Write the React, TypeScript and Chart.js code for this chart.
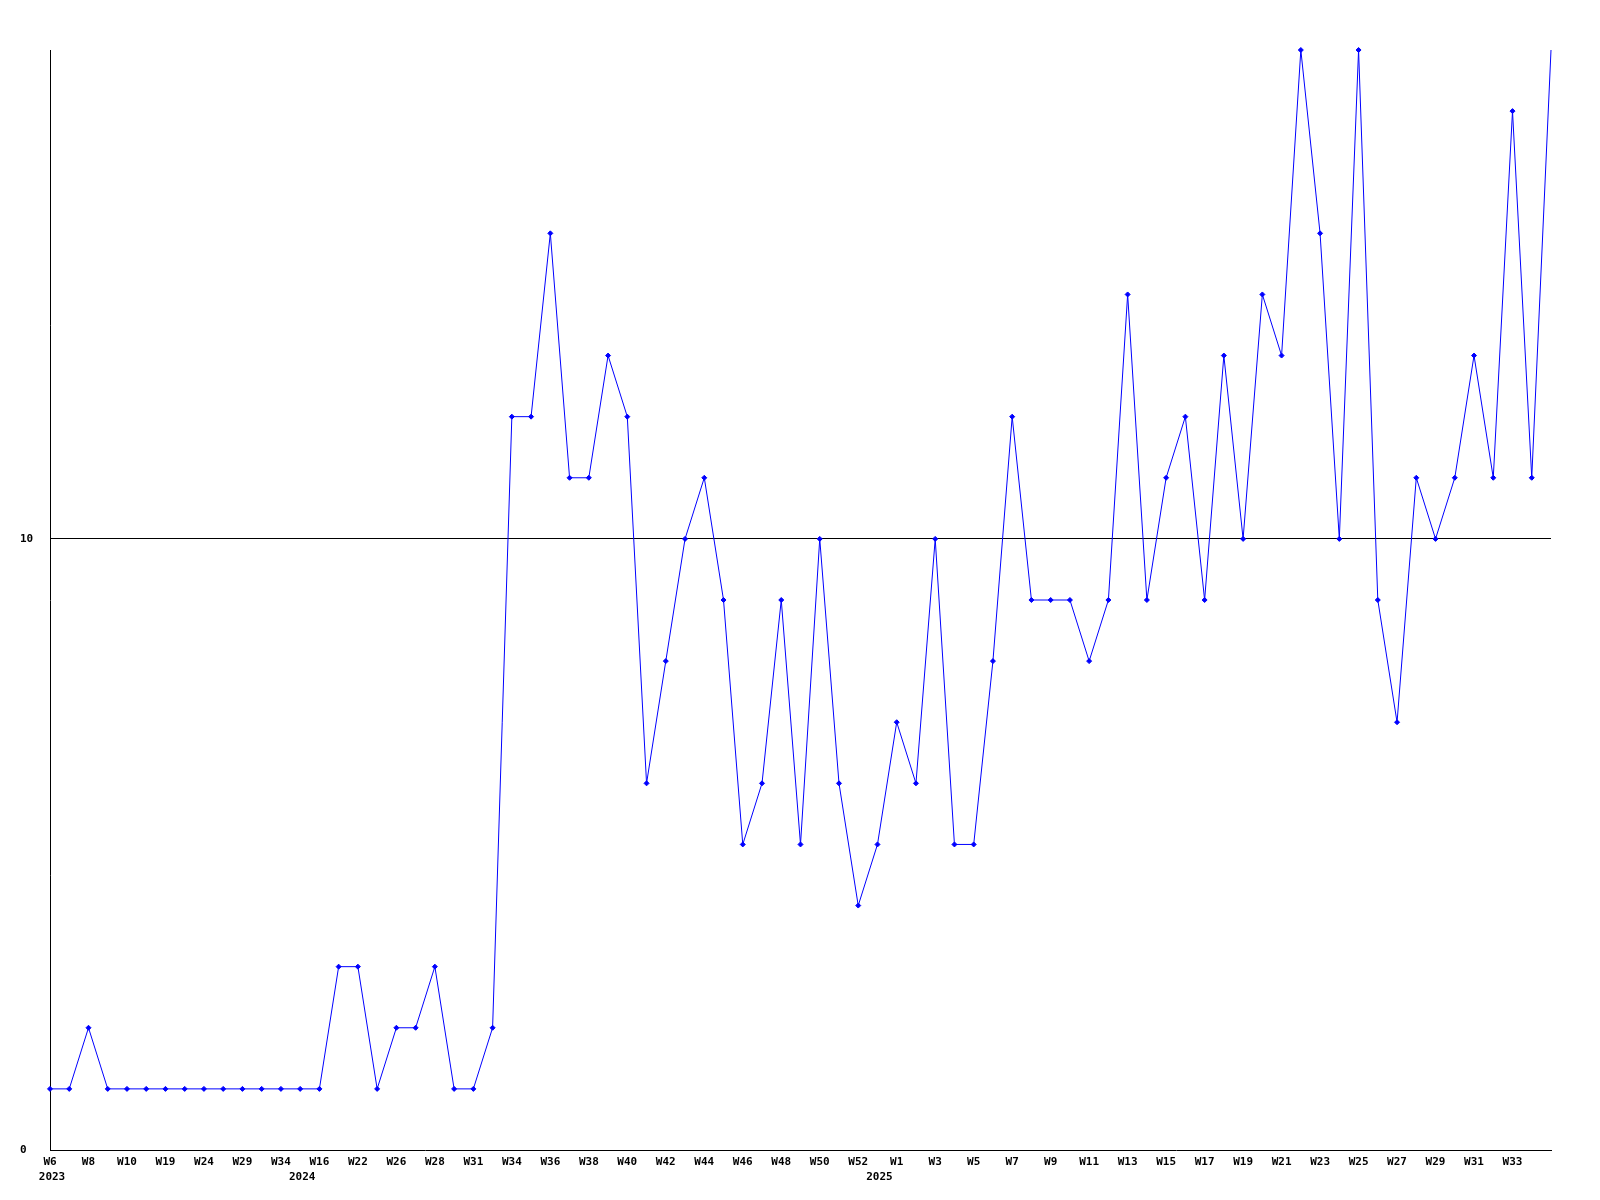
import React, { useEffect, useRef } from 'react';
import { Chart, registerables } from 'chart.js';

Chart.register(...registerables);

const weekLabels = [
  'W6', 'W7', 'W8', 'W9', 'W10', 'W15', 'W19', 'W22', 'W24', 'W27',
  'W29', 'W32', 'W34', 'W10', 'W16', 'W19', 'W22', 'W24', 'W26', 'W27',
  'W28', 'W30', 'W31', 'W32', 'W34', 'W35', 'W36', 'W37', 'W38', 'W39',
  'W40', 'W41', 'W42', 'W43', 'W44', 'W45', 'W46', 'W47', 'W48', 'W49',
  'W50', 'W51', 'W52', 'W0', 'W1', 'W2', 'W3', 'W4', 'W5', 'W6',
  'W7', 'W8', 'W9', 'W10', 'W11', 'W12', 'W13', 'W14', 'W15', 'W16',
  'W17', 'W18', 'W19', 'W20', 'W21', 'W22', 'W23', 'W24', 'W25', 'W26',
  'W27', 'W28', 'W29', 'W30', 'W31', 'W32', 'W33', 'W34', 'W35',
];

const values = [
  1, 1, 2, 1, 1, 1, 1, 1, 1, 1,
  1, 1, 1, 1, 1, 3, 3, 1, 2, 2,
  3, 1, 1, 2, 12, 12, 15, 11, 11, 13,
  12, 6, 8, 10, 11, 9, 5, 6, 9, 5,
  10, 6, 4, 5, 7, 6, 10, 5, 5, 8,
  12, 9, 9, 9, 8, 9, 14, 9, 11, 12,
  9, 13, 10, 14, 13, 18, 15, 10, 18, 9,
  7, 11, 10, 11, 13, 11, 17, 11, 18,
];

const yTickValues = [0, 10];
const yearLabels = ['2023', '2024', '2025'];
const yearIndices = [0, 13, 43];

const FONT = '"DejaVu Sans Mono", monospace';

export default function App() {
  const ref = useRef<HTMLCanvasElement>(null);

  useEffect(() => {
    if (!ref.current) return;
    const yearPlugin = {
      id: 'yearLabels',
      afterDraw(chart: any) {
        const ctx = chart.ctx;
        const xs = chart.scales.x;
        ctx.save();
        ctx.font = `bold 11px ${FONT}`;
        ctx.fillStyle = '#000';
        ctx.textAlign = 'center';
        ctx.textBaseline = 'middle';
        yearLabels.forEach((t, i) => {
          ctx.fillText(t, xs.getPixelForValue(yearIndices[i]) + 2, xs.top + 27);
        });
        ctx.restore();
      },
    };

    const chart = new Chart(ref.current, {
      type: 'line',
      data: {
        labels: weekLabels,
        datasets: [
          {
            data: values,
            borderColor: '#0000ff',
            backgroundColor: '#0000ff',
            borderWidth: 1,
            tension: 0,
            fill: false,
            clip: false as any,
            pointStyle: 'rectRot',
            pointRadius: (c: any) => (c.dataIndex === values.length - 1 ? 0 : 2.5),
            pointBorderWidth: 1,
            pointBorderColor: '#0000ff',
            pointBackgroundColor: '#0000ff',
          },
        ],
      },
      options: {
        animation: false,
        responsive: false,
        events: [],
        layout: { padding: { left: 20, top: 50, right: 49, bottom: 0 } },
        plugins: {
          legend: { display: false },
          tooltip: { enabled: false },
          title: { display: false },
        },
        scales: {
          x: {
            type: 'category',
            offset: false,
            grid: { display: false, drawTicks: false },
            border: { display: true, color: '#000', width: 1 },
            ticks: {
              autoSkip: false,
              maxRotation: 0,
              minRotation: 0,
              padding: 6,
              color: '#000',
              font: { family: FONT, size: 11, weight: 'bold' },
              callback: (_v: any, i: number) =>
                i % 2 === 0 && i < values.length - 1 ? weekLabels[i] : '',
            },
            afterFit: (s: any) => {
              s.height = 50;
            },
          },
          y: {
            min: 0,
            max: 18,
            grid: {
              drawTicks: false,
              color: (c: any) => (c.tick && c.tick.value === 10 ? '#000' : 'rgba(0,0,0,0)'),
              lineWidth: 1,
            },
            border: { display: true, color: '#000', width: 1 },
            ticks: {
              crossAlign: 'far',
              padding: 0,
              color: '#000',
              font: { family: FONT, size: 11, weight: 'bold' },
            },
            afterBuildTicks: (s: any) => {
              s.ticks = yTickValues.map((v) => ({ value: v }));
            },
            afterFit: (s: any) => {
              s.width = 30;
            },
          },
        },
      },
      plugins: [yearPlugin],
    });
    return () => chart.destroy();
  }, []);

  return (
    <div style={{ position: 'absolute', left: 0, top: 0, width: 1600, height: 1200, background: '#fff' }}>
      <canvas ref={ref} width={1600} height={1200} style={{ display: 'block' }} />
    </div>
  );
}
